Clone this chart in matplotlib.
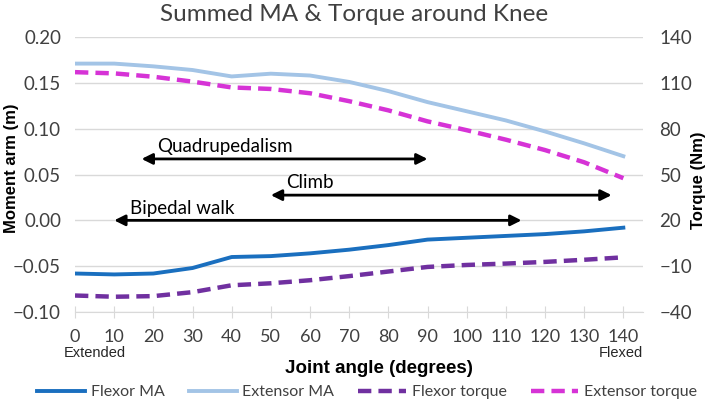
import matplotlib
matplotlib.use('Agg')
from matplotlib import pyplot as plt

angles = [0, 10, 20, 30, 40, 50, 60, 70, 80, 90, 100, 110, 120, 130, 140]
flexor_ma = [-0.058, -0.059, -0.058, -0.052, -0.040, -0.039, -0.036, -0.032,
             -0.027, -0.021, -0.019, -0.017, -0.015, -0.012, -0.008]
extensor_ma = [0.171, 0.171, 0.168, 0.164, 0.157, 0.160, 0.158, 0.151,
               0.141, 0.129, 0.119, 0.109, 0.097, 0.084, 0.070]
flexor_torque = [-29.2, -30.0, -29.6, -27.0, -22.5, -21.2, -19.2, -16.5,
                 -13.5, -10.5, -9.2, -8.3, -7.2, -5.8, -4.2]
extensor_torque = [117.0, 116.2, 114.0, 110.8, 107.0, 106.0, 103.2, 98.0,
                   92.0, 84.8, 79.0, 72.8, 66.0, 58.0, 47.6]

# activity ranges: (label, start, end, y in moment arm units)
ranges = [('Quadrupedalism', 17, 90, 0.067),
          ('Climb', 50, 137, 0.0275),
          ('Bipedal walk', 10, 114, 0.0)]

plt.rcParams['font.family'] = ['Lato', 'DejaVu Sans']

fig = plt.figure(figsize=(7.09, 4.05), dpi=100)
ax = fig.add_axes([0.1058, 0.2296, 0.801, 0.679])
ax2 = ax.twinx()

ax.set_xlim(0, 145)
ax.set_ylim(-0.10, 0.20)
ax2.set_ylim(-40, 140)
ax.set_yticks([-0.10, -0.05, 0.0, 0.05, 0.10, 0.15, 0.20])
ax.set_yticklabels(['\u22120.10', '\u22120.05', '0.00', '0.05', '0.10', '0.15', '0.20'])
ax2.set_yticks([-40, -10, 20, 50, 80, 110, 140])
ax2.set_yticklabels(['\u221240', '\u221210', '20', '50', '80', '110', '140'])
ax.set_xticks(angles)

grid_col = '#d9d9d9'
ax.grid(axis='y', color=grid_col, lw=1)
for a in (ax, ax2):
    for s in a.spines.values():
        s.set_visible(False)
ax.spines['bottom'].set_visible(True)
ax.spines['bottom'].set_color(grid_col)
ax.tick_params(axis='x', direction='inout', length=8, color=grid_col,
               labelsize=13, labelcolor='#404040', pad=8)
ax.tick_params(axis='y', length=0, labelsize=13.5, labelcolor='#404040', pad=10)
ax2.tick_params(axis='y', length=0, labelsize=13.5, labelcolor='#404040', pad=12)

ax.plot(angles, flexor_ma, color='#1a6fbf', lw=2.8, label='Flexor MA', zorder=3)
ax.plot(angles, extensor_ma, color='#a3c4e6', lw=2.8, label='Extensor MA', zorder=3)
ax2.plot(angles, flexor_torque, color='#7030a0', lw=3.2, ls=(0, (3, 1.6)),
         label='Flexor torque')
ax2.plot(angles, extensor_torque, color='#d633d6', lw=3.2, ls=(0, (3, 1.6)),
         label='Extensor torque')

for label, x0, x1, yv in ranges:
    ax.annotate('', xy=(x1, yv), xytext=(x0, yv),
                arrowprops=dict(arrowstyle='<|-|>', color='black', lw=2,
                                mutation_scale=16, shrinkA=0, shrinkB=0),
                zorder=5)
    ax.text(x0 + 4, yv + 0.004, label, fontsize=13.5, ha='left', va='bottom',
            color='black', zorder=5)

fig.text(0.5, 0.963, 'Summed MA & Torque around Knee', ha='center',
         va='center', fontsize=17.5, color='#404040')
fig.text(0.016, 0.585, 'Moment arm (m)', rotation=90, ha='center', va='center',
         fontsize=12, fontweight='bold', family='Liberation Sans')
fig.text(0.985, 0.556, 'Torque (Nm)', rotation=90, ha='center', va='center',
         fontsize=12, fontweight='bold', family='Liberation Sans')
fig.text(0.534, 0.091, 'Joint angle (degrees)', ha='center', va='center',
         fontsize=13.5, fontweight='bold', family='Liberation Sans')
fig.text(0.134, 0.128, 'Extended', ha='center', va='center', fontsize=10.5,
         family='Liberation Sans', color='#262626')
fig.text(0.875, 0.128, 'Flexed', ha='center', va='center', fontsize=10.5,
         family='Liberation Sans', color='#262626')

h1, l1 = ax.get_legend_handles_labels()
h2, l2 = ax2.get_legend_handles_labels()
fig.legend(h1 + h2, l1 + l2, loc='center', bbox_to_anchor=(0.518, 0.032),
           ncol=4, frameon=False, fontsize=11.5, handlelength=3.0,
           columnspacing=1.5, handletextpad=0.35, labelcolor='#404040',
           borderpad=0, borderaxespad=0)

fig.savefig('out.png', dpi=100)
